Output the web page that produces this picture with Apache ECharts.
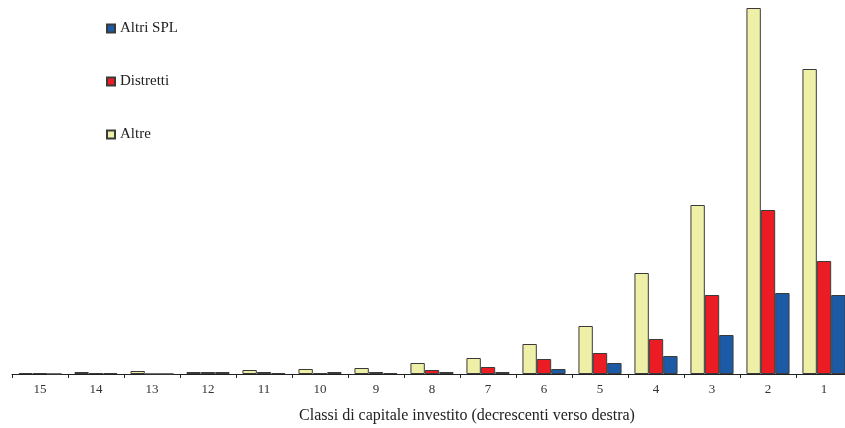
<!DOCTYPE html>
<html>
<head>
<meta charset="utf-8">
<script src="https://cdn.jsdelivr.net/npm/echarts@6/dist/echarts.min.js"></script>
<style>
html,body{margin:0;padding:0;background:#fff;overflow:hidden;width:845px;height:428px;}
#c{width:852px;height:428px;}
</style>
</head>
<body>
<div id="c"></div>
<script>
// Categories (classes of invested capital, decreasing to the right)
var categories = ['15','14','13','12','11','10','9','8','7','6','5','4','3','2','1'];
// Series values (arbitrary units)
var altre     = [1, 2, 3, 2, 4, 5, 6, 11, 16, 30, 48, 101, 169, 366, 305];
var distretti = [1, 1, 0, 2, 2, 1, 2, 4, 7, 15, 21, 35, 79, 164, 113];
var altriSPL  = [0, 1, 0, 2, 1, 2, 1, 2, 2, 5, 11, 18, 39, 81, 79];
var legendOrder = ['Altri SPL', 'Distretti', 'Altre'];
var axisTitle = 'Classi di capitale investito (decrescenti verso destra)';

var FONT = '"Liberation Serif", "DejaVu Serif", serif';
var chart = echarts.init(document.getElementById('c'), null, {renderer: 'canvas'});

function barSeries(name, data, color) {
  return {
    name: name,
    type: 'bar',
    data: data,
    barGap: '0%',
    barCategoryGap: '23%',
    itemStyle: {color: color, borderColor: '#3a3a3a', borderWidth: 1},
    emphasis: {disabled: true},
    animation: false
  };
}

chart.setOption({
  animation: false,
  backgroundColor: '#ffffff',
  grid: {left: 12, top: 0, width: 840, height: 374, containLabel: false},
  legend: {
    data: legendOrder,
    orient: 'vertical',
    left: 106,
    top: 21,
    padding: 0,
    itemWidth: 8,
    itemHeight: 8,
    itemGap: 38,
    itemTextGap: 7,
    icon: 'rect',
    textStyle: {fontFamily: FONT, fontSize: 15, color: '#222'},
    selectedMode: false
  },
  xAxis: {
    type: 'category',
    data: categories,
    boundaryGap: true,
    axisLine: {show: true, lineStyle: {color: '#222', width: 1}},
    axisTick: {show: true, length: 4, lineStyle: {color: '#222', width: 1}},
    axisLabel: {fontFamily: FONT, fontSize: 13, color: '#333', margin: 9}
  },
  yAxis: {
    type: 'value',
    min: 0,
    max: 374,
    show: false,
    splitLine: {show: false}
  },
  graphic: [{
    type: 'text',
    x: 467,
    y: 416,
    style: {text: axisTitle, font: '16px ' + FONT, fill: '#222', align: 'center', verticalAlign: 'middle'}
  }],
  series: [
    barSeries('Altre', altre, '#EFF0A8'),
    barSeries('Distretti', distretti, '#EC1C24'),
    barSeries('Altri SPL', altriSPL, '#1D5AA6')
  ]
});
</script>
</body>
</html>
